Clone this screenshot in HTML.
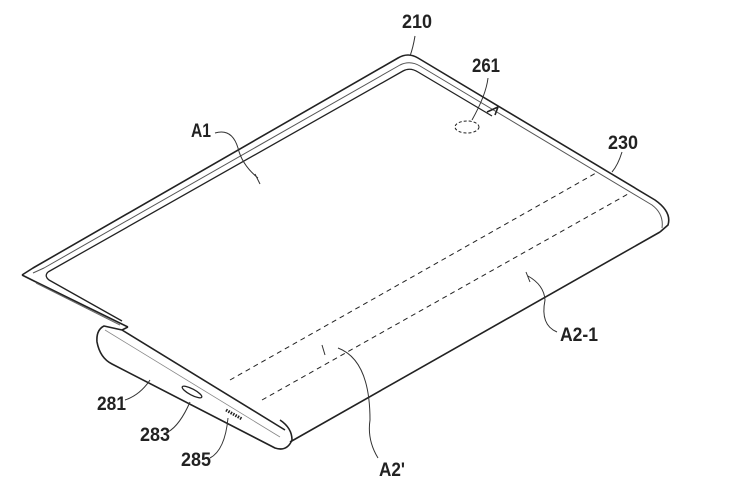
<!DOCTYPE html>
<html><head><style>
html,body{margin:0;padding:0;background:#fff;}
svg{display:block}
text{font-family:"Liberation Sans",sans-serif;font-size:19px;font-weight:bold;fill:#222;}
</style></head><body>
<svg width="750" height="499" viewBox="0 0 750 499" xmlns="http://www.w3.org/2000/svg">
<g fill="none" stroke="#222" stroke-width="1.6" stroke-linejoin="round">
<path d="M22,275 L33,268 L398,58 Q408,52 418,58 L655,200 Q672,212 668,225 L660,232"/>
<path d="M33,273 L44,268 L400,65 Q410,60 420,66 L652,205 Q664,214 662,228" stroke-width="1" stroke="#555"/>
<path d="M48,272 L403,71 Q410,67 418,72 L492,116" stroke-width="1.3"/>
<path d="M48,272 Q44,276 49,280 L122,321" stroke-width="1.3"/>
<path d="M22,275 L34,281 L128,327"/>
<path d="M36,283 L120,325" stroke-width="1" stroke="#666"/>
<path d="M128,327 L122,330"/>
<path d="M122,330 L285,430"/>
<path d="M105,330 L280,437" stroke-width="0.8" stroke="#888"/>
<path d="M122,330 L104,326 Q96,330 97,342 Q100,358 112,364 L275,448 Q287,452 292,440 Q292,428 280,420" />
<path d="M290,442 L660,232"/>
<path d="M487,112 L498,107 L495,115"/>
<ellipse cx="467" cy="127" rx="12" ry="6" stroke-dasharray="3,2" stroke-width="1"/>
<path d="M230,380 L596,173" stroke-dasharray="5,4" stroke-width="1"/>
<path d="M262,400 L628,194" stroke-dasharray="5,4" stroke-width="1"/>
<ellipse cx="192" cy="392" rx="11" ry="3" transform="rotate(28 192 392)" stroke-width="1.3"/>
<path d="M226,410 L242,419" stroke-width="3" stroke-dasharray="1.5,1.2"/>
<g stroke-width="1" stroke="#333">
<path d="M215,133 Q232,128 238,148 Q242,165 258,178 M255,174 L260,184"/>
<path d="M415,36 Q413,48 410,56"/>
<path d="M488,78 Q486,95 472,120"/>
<path d="M622,152 Q618,165 612,172"/>
<path d="M557,332 Q540,325 545,300 Q544,285 528,276 M526,272 L530,282"/>
<path d="M378,458 Q367,440 370,420 Q370,360 338,348 M322,345 L325,355"/>
<path d="M125,400 Q140,395 150,380"/>
<path d="M168,432 Q180,425 190,402"/>
<path d="M210,458 Q225,450 228,418"/>
</g>
</g>
<text x="402" y="28" textLength="30" lengthAdjust="spacingAndGlyphs">210</text>
<text x="472" y="72" textLength="28" lengthAdjust="spacingAndGlyphs">261</text>
<text x="608" y="149" textLength="30" lengthAdjust="spacingAndGlyphs">230</text>
<text x="191" y="137" textLength="20" lengthAdjust="spacingAndGlyphs">A1</text>
<text x="560" y="341" textLength="38" lengthAdjust="spacingAndGlyphs">A2-1</text>
<text x="379" y="476" textLength="26" lengthAdjust="spacingAndGlyphs">A2'</text>
<text x="97" y="410" textLength="29" lengthAdjust="spacingAndGlyphs">281</text>
<text x="140" y="441" textLength="30" lengthAdjust="spacingAndGlyphs">283</text>
<text x="181" y="466" textLength="30" lengthAdjust="spacingAndGlyphs">285</text>
</svg>
</body></html>
